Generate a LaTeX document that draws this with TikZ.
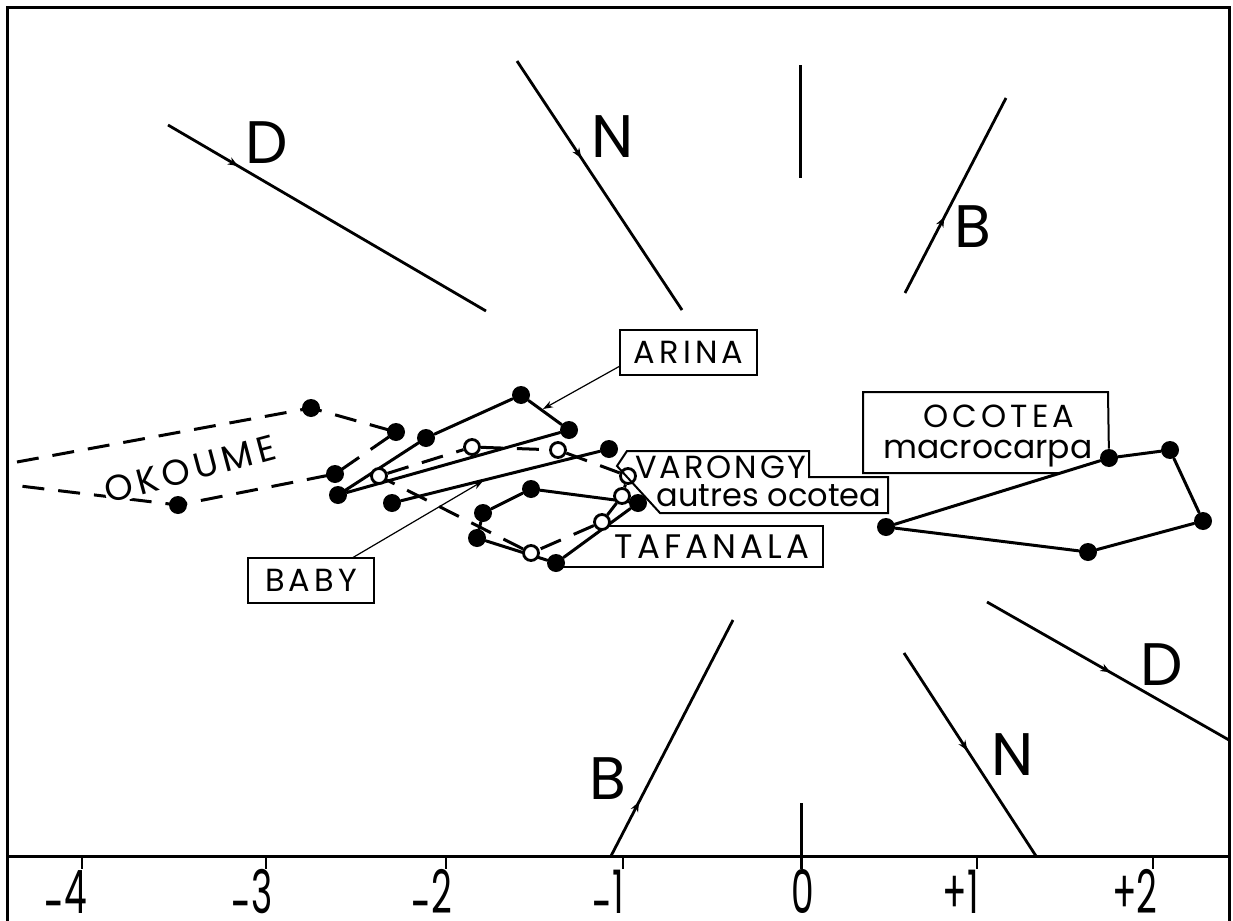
\documentclass[tikz,border=0pt]{standalone}
\usepackage{fontspec}
\setmainfont{Poppins}
\usetikzlibrary{arrows.meta,decorations.markings}
\pgfdeclarelayer{bg}
\pgfsetlayers{bg,main}
\begin{document}
\begin{tikzpicture}[x=0.5pt,y=-0.5pt,
  fdot/.style={circle,fill=black,inner sep=0pt,minimum size=9pt},
  odot/.style={circle,draw=black,fill=white,line width=1.4pt,inner sep=0pt,minimum size=7.5pt},
  curve/.style={line width=1.5pt,line cap=round},
  dcurve/.style={line width=1.5pt,dash pattern=on 11pt off 7pt},
  dirline/.style={line width=1.4pt},
  boxline/.style={line width=1pt},
  ptr/.style={line width=0.6pt},
  lab/.style={font=\fontsize{16}{16}\selectfont,inner sep=0pt},
  caps/.style={font=\fontsize{16}{16}\selectfont\addfontfeatures{LetterSpace=13},inner sep=0pt},
  big/.style={font=\fontsize{30}{30}\selectfont,inner sep=0pt},
  axlab/.style={font=\fontsize{30}{30}\selectfont,inner sep=0pt,anchor=base},
  midarrow/.style={postaction={decorate},decoration={markings,mark=at position #1 with {\arrow{Stealth[length=5pt,width=4pt]}}}},
]
\useasboundingbox (0,0) rectangle (1233,921);
% frame
\draw[line width=1.5pt] (7,921) -- (7,7) -- (1229,7) -- (1229,921);
% axis
\coordinate (axL) at (7,856);
\coordinate (axR) at (1229,856);
\draw[line width=1.5pt] (axL) -- (axR);
\foreach \n/\x in {m4/82,m3/266,m2/446,m1/623,p1/977,p2/1153}{
  \coordinate (t\n a) at (\x,856);
  \coordinate (t\n b) at (\x,869);
  \draw[line width=1.3pt] (t\n a) -- (t\n b);
}
\coordinate (z0a) at (801,803);
\coordinate (z0b) at (801,869);
\draw[line width=1.5pt] (z0a) -- (z0b);
\node[axlab] (lm4) at (76,913) {\scalebox{0.6}[1]{\llap{\smash{\raisebox{-0.2em}{-}}}4}};
\node[axlab] (lm3) at (262,913) {\scalebox{0.6}[1]{\llap{\smash{\raisebox{-0.2em}{-}}}3}};
\node[axlab] (lm2) at (442,913) {\scalebox{0.6}[1]{\llap{\smash{\raisebox{-0.2em}{-}}}2}};
\node[axlab] (lm1) at (618,913) {\scalebox{0.6}[1]{\llap{\smash{\raisebox{-0.2em}{-}}}1}};
\node[axlab] (l0) at (803,913) {\scalebox{0.6}[1]{0}};
\node[axlab] (lp1) at (973,913) {\scalebox{0.6}[1]{\llap{+}1}};
\node[axlab] (lp2) at (1147,913) {\scalebox{0.6}[1]{\llap{+}2}};
% direction lines
\coordinate (d1a) at (168,125); \coordinate (d1b) at (486,311);
\coordinate (n1a) at (517,61);  \coordinate (n1b) at (682,310);
\coordinate (v1a) at (800,65);  \coordinate (v1b) at (800,178);
\coordinate (b1a) at (905,293); \coordinate (b1b) at (1006,98);
\coordinate (b2a) at (611,856); \coordinate (b2b) at (733,620);
\coordinate (n2a) at (904,653); \coordinate (n2b) at (1036,856);
\coordinate (d2a) at (987,602); \coordinate (d2b) at (1229,740);
\draw[dirline,midarrow=0.22] (d1a) -- (d1b);
\draw[dirline,midarrow=0.39] (n1a) -- (n1b);
\draw[line width=1.5pt] (v1a) -- (v1b);
\draw[dirline,midarrow=0.39] (b1a) -- (b1b);
\draw[dirline,midarrow=0.23] (b2a) -- (b2b);
\draw[dirline,midarrow=0.48] (n2a) -- (n2b);
\draw[dirline,midarrow=0.51] (d2a) -- (d2b);
\node[big] (D1) at (267,143) {D};
\node[big] (N1) at (613,137) {N};
\node[big] (B1) at (973,227) {B};
\node[big] (B2) at (608,779) {B};
\node[big] (N2) at (1013,755) {N};
\node[big] (D2) at (1162,665) {D};
% points
\node[fdot] (ok1) at (311,408) {};
\node[fdot] (ok2) at (396,432) {};
\node[fdot] (ok3) at (335,474) {};
\node[fdot] (ok4) at (178,505) {};
\node[fdot] (ar1) at (338,495) {};
\node[fdot] (ar2) at (426,438) {};
\node[fdot] (ar3) at (521,395) {};
\node[fdot] (ar4) at (569,430) {};
\node[fdot] (ba1) at (392,503) {};
\node[fdot] (ba2) at (609,449) {};
\node[fdot] (ta1) at (483,513) {};
\node[fdot] (ta2) at (531,489) {};
\node[fdot] (ta3) at (638,503) {};
\node[fdot] (ta4) at (556,563) {};
\node[fdot] (ta5) at (477,538) {};
\node[fdot] (oc1) at (886,527) {};
\node[fdot] (oc2) at (1109,458) {};
\node[fdot] (oc3) at (1170,450) {};
\node[fdot] (oc4) at (1203,521) {};
\node[fdot] (oc5) at (1088,552) {};
\node[odot] (va1) at (379,476) {};
\node[odot] (va2) at (472,447) {};
\node[odot] (va3) at (558,450) {};
\node[odot] (va4) at (628,476) {};
\node[odot] (va5) at (622,496) {};
\node[odot] (va6) at (602,522) {};
\node[odot] (va7) at (531,553) {};
\coordinate (okL1) at (17,462);
\coordinate (okL2) at (20,486);
\begin{pgfonlayer}{bg}
\draw[dcurve] (okL1) -- (ok1.center) -- (ok2.center) -- (ok3.center) -- (ok4.center) -- (okL2);
\draw[dcurve] (va1) -- (va2) -- (va3) -- (va4) -- (va5) -- (va6) -- (va7) -- (va1);
\draw[curve] (ar1) -- (ar2) -- (ar3) -- (ar4) -- (ar1);
\draw[curve] (ba1) -- (ba2);
\draw[curve] (ta1) -- (ta2) -- (ta3) -- (ta4) -- (ta5) -- (ta1);
\draw[curve] (oc1) -- (oc2) -- (oc3) -- (oc4) -- (oc5) -- (oc1);
\end{pgfonlayer}
% labels
\node[caps,font=\fontsize{18}{18}\selectfont\addfontfeatures{LetterSpace=13},rotate=15,fill=white,inner sep=0.3pt] (okoume) at (190,469) {OKOUME};
\node[caps,draw,boxline,minimum width=68.5pt,minimum height=22.5pt] (arina) at (688.5,352.5) {ARINA};
\coordinate (arinaP) at (620,366);
\coordinate (arinaT) at (543,409);
\draw[ptr,-{Stealth[length=5pt,width=3.5pt]}] (arinaP) -- (arinaT);
\node[caps,draw,boxline,minimum width=63pt,minimum height=22.5pt] (baby) at (311,580) {BABY};
\coordinate (babyP) at (353,557.5);
\coordinate (babyT) at (483,481);
\draw[ptr,-{Stealth[length=5pt,width=3.5pt]}] (babyP) -- (babyT);
% VARONGY callout
\coordinate (vaTip) at (617,466);
\draw[boxline] (vaTip) -- (627,451) -- (809,451) -- (809,477) -- (888,477) -- (888,513) -- (660,513) -- cycle;
\node[caps,font=\fontsize{16}{16}\selectfont\addfontfeatures{LetterSpace=9}] (varongy) at (721,467) {VARONGY};
\node[lab] (autres) at (769,496) {autres ocotea};
% TAFANALA
\draw[boxline] (607,526) -- (823,526) -- (823,567) -- (560,567);
\node[caps,font=\fontsize{17}{17}\selectfont\addfontfeatures{LetterSpace=12}] (tafanala) at (712,547) {TAFANALA};
% OCOTEA
\draw[boxline] (1060,473) -- (863,473) -- (863,392) -- (1108,392) -- (oc2);
\node[caps] (ocotea) at (999,416) {OCOTEA};
\node[lab,font=\fontsize{16.5}{16.5}\selectfont] (macro) at (988,454) {macrocarpa};
\end{tikzpicture}
\end{document}
